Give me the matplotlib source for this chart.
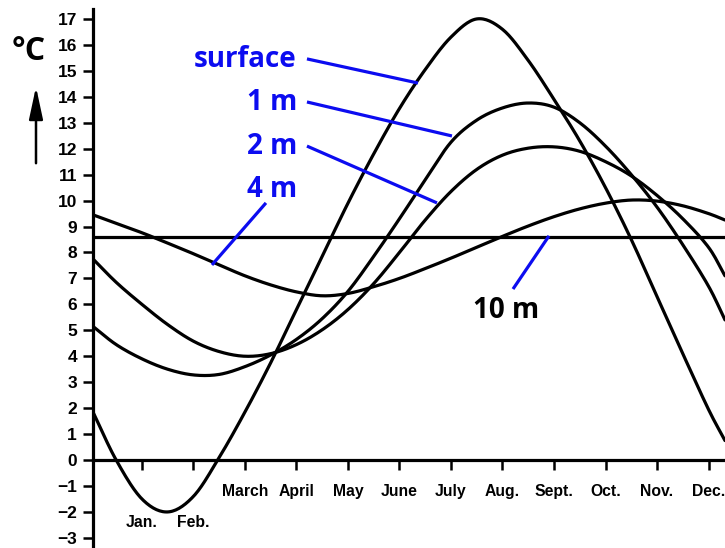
import matplotlib
matplotlib.use('Agg')
import matplotlib.pyplot as plt
from matplotlib import font_manager
import numpy as np

# ---------------- data ----------------
month_pos = [0.05, 0.5, 1.0, 1.5, 2.0, 2.5, 3.0, 3.5, 4.0, 4.5, 5.0, 5.5, 6.0,
             6.5, 7.0, 7.5, 8.0, 8.5, 9.0, 9.5, 10.0, 10.5, 11.0, 11.5, 12.0, 12.32]
surface = [1.85, 0.0, -1.5, -2.0, -1.4, 0.1, 1.85, 3.75, 5.8, 7.85, 9.9, 11.8, 13.55,
           15.05, 16.3, 17.0, 16.6, 15.4, 13.9, 12.3, 10.5, 8.5, 6.3, 4.1, 1.95, 0.75]
one_m = [5.15, 4.45, 3.9, 3.5, 3.28, 3.3, 3.6, 4.05, 4.65, 5.45, 6.5, 7.85, 9.3,
         10.8, 12.25, 13.1, 13.57, 13.76, 13.6, 13.0, 12.1, 11.0, 9.75, 8.3, 6.7, 5.4]
two_m = [7.75, 6.85, 6.0, 5.22, 4.58, 4.18, 4.0, 4.1, 4.45, 5.02, 5.8, 6.8, 8.0,
         9.25, 10.35, 11.2, 11.75, 12.02, 12.07, 11.9, 11.5, 10.95, 10.2, 9.3, 8.2, 7.1]
four_m = [9.45, 9.12, 8.76, 8.36, 7.95, 7.52, 7.1, 6.75, 6.48, 6.33, 6.42, 6.68, 7.0,
          7.38, 7.78, 8.2, 8.62, 9.02, 9.38, 9.68, 9.9, 10.02, 9.98, 9.8, 9.5, 9.25]
ten_m_level = 8.6

month_ticks = [1, 2, 3, 4, 5, 6, 7, 8, 9, 10, 11, 12]
month_labels = ['Jan.', 'Feb.', 'March', 'April', 'May', 'June', 'July',
                'Aug.', 'Sept.', 'Oct.', 'Nov.', 'Dec.']
y_ticks = list(range(-3, 18))

# ---------------- fonts ----------------
names = {f.name for f in font_manager.fontManager.ttflist}
tick_font = 'Liberation Sans Narrow' if 'Liberation Sans Narrow' in names else 'Liberation Sans'
label_font = 'Open Sans' if 'Open Sans' in names else 'DejaVu Sans'
BLUE = '#0c0cf0'


def catmull_rom(x, y, n=16):
    P = np.column_stack([x, y]).astype(float)
    P = np.vstack([2 * P[0] - P[1], P, 2 * P[-1] - P[-2]])
    t = np.linspace(0, 1, n, endpoint=False)[:, None]
    out = []
    for i in range(1, len(P) - 2):
        p0, p1, p2, p3 = P[i - 1], P[i], P[i + 1], P[i + 2]
        seg = 0.5 * ((2 * p1) + (-p0 + p2) * t + (2 * p0 - 5 * p1 + 4 * p2 - p3) * t ** 2
                     + (-p0 + 3 * p1 - 3 * p2 + p3) * t ** 3)
        out.append(seg)
    out.append(P[-2][None, :])
    out = np.vstack(out)
    return out[:, 0], out[:, 1]


fig = plt.figure(figsize=(7.25, 5.48), dpi=100)
ax = fig.add_axes([93 / 725, 0.0, 632 / 725, 1.0])
ax.set_xlim(0.05, 12.32)
ax.set_ylim(-3.39, 17.73)

LW = 2.3
for series in (surface, one_m, two_m, four_m):
    xs, ys = catmull_rom(month_pos, series)
    ax.plot(xs, ys, color='black', lw=LW, solid_capstyle='round', zorder=3)
ax.axhline(ten_m_level, color='black', lw=LW, zorder=3)

# axes styling
for s in ('top', 'right'):
    ax.spines[s].set_visible(False)
ax.spines['bottom'].set_position(('data', 0))
ax.spines['bottom'].set_linewidth(LW)
ax.spines['left'].set_linewidth(LW)
ax.spines['left'].set_bounds(-3.39, 17.4)

ax.set_yticks(y_ticks)
ax.set_yticklabels([str(v).replace('-', '\u2212') for v in y_ticks])
ax.tick_params(axis='y', direction='out', length=7.5, width=1.8, pad=4,
               labelsize=12.5)
for lab in ax.get_yticklabels():
    lab.set_fontfamily(tick_font)
    lab.set_fontweight('bold')

ax.set_xticks(month_ticks)
ax.tick_params(axis='x', direction='out', length=7, width=1.8, labelbottom=False)
for m, lab in zip(month_ticks, month_labels):
    yy = -2.39 if lab in ('Jan.', 'Feb.') else -1.2
    ax.text(m, yy, lab, ha='center', va='center', fontsize=11.3,
            fontweight='bold', family=tick_font)

# unit label and arrow
fig.text(12 / 725, 1 - 52 / 548, '\u00b0C', ha='left', va='center', fontsize=23,
         fontweight='bold', family=label_font)
ax.annotate('', xy=(36 / 725, 1 - 84 / 548), xytext=(36 / 725, 1 - 166 / 548),
            xycoords='figure fraction', textcoords='figure fraction',
            arrowprops=dict(arrowstyle='-|>,head_length=1.4,head_width=0.3',
                            lw=1.8, color='black', mutation_scale=14))

# depth labels with pointer lines
labels = [('surface', 15.15, (4.204, 15.46), (6.359, 14.53)),
          ('1 m', 13.49, (4.204, 13.80), (7.019, 12.49)),
          ('2 m', 11.80, (4.204, 12.10), (6.728, 9.91)),
          ('4 m', 10.14, (3.408, 9.91), (2.359, 7.52))]
for text, yb, p0, p1 in labels:
    ax.text(4.01, yb, text, ha='right', va='baseline', fontsize=20,
            fontweight='bold', family=label_font, color=BLUE, zorder=5)
    ax.plot([p0[0], p1[0]], [p0[1], p1[1]], color=BLUE, lw=LW,
            solid_capstyle='butt', zorder=4)

ax.text(7.427, 5.47, '10 m', ha='left', va='baseline', fontsize=20,
        fontweight='bold', family=label_font, color='black', zorder=5)
ax.plot([8.204, 8.903], [6.59, 8.64], color=BLUE, lw=LW,
        solid_capstyle='butt', zorder=4)

fig.savefig('out.png', dpi=100)
